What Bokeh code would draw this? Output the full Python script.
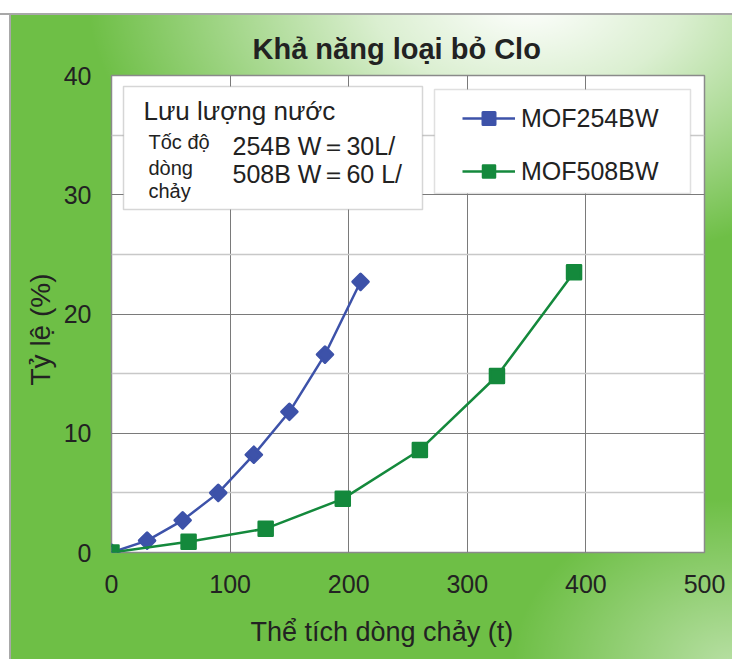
from bokeh.plotting import figure
from bokeh.models import (Range1d, FixedTicker, Label, BoxAnnotation, Legend, LegendItem, Title)
from bokeh.embed import file_html
from bokeh.resources import INLINE
import math

# ---- data ----
x_254 = [0, 30, 60, 90, 120, 150, 180, 210]
y_254 = [0, 1.0, 2.7, 5.0, 8.2, 11.8, 16.6, 22.7]
x_508 = [0, 65, 130, 195, 260, 325, 390]
y_508 = [0, 0.9, 2.0, 4.5, 8.6, 14.8, 23.5]
series_names = ["MOF254BW", "MOF508BW"]
x_ticks = [0, 100, 200, 300, 400, 500]
y_ticks = [0, 10, 20, 30, 40]
title_text = "Khả năng loại bỏ Clo"
x_label = "Thể tích dòng chảy (t)"
y_label = "Tỷ lệ (%)"
box_title = "Lưu lượng nước"
box_left_lines = ["Tốc độ", "dòng", "chảy"]
box_right_lines = ["254B W＝30L/", "508B W＝60 L/"]

FONT = "Liberation Sans"
BLUE = "#3d52a9"
GREEN = "#14893c"
TXT = "#222222"

# frame geometry (page px)
FL, FR, FT, FB = 111, 704, 75, 552
XMAX, YMAX = 500, 40
W, H = 732, 659
def dx(px):
    return (px - FL) * XMAX / (FR - FL)
def dy(py):
    return (FB - py) * YMAX / (FB - FT)

p = figure(width=W, height=H, output_backend="svg", toolbar_location=None,
           x_range=Range1d(0, XMAX), y_range=Range1d(0, YMAX),
           frame_width=FR - FL, frame_height=FB - FT,
           min_border_left=FL, min_border_top=FT,
           min_border_bottom=H - FB, min_border_right=W - FR)
p.border_fill_color = None
p.background_fill_color = "white"
p.outline_line_color = "#8a8a8a"
p.outline_line_width = 1.5
p.styles = {"background":
            "linear-gradient(to bottom, #ffffff 0px, #ffffff 13px, #a8a8a8 13px, #a8a8a8 15px, rgba(255,255,255,0) 15px),"
            "linear-gradient(to right, #ffffff 0px, #ffffff 9px, #a8a8a8 9px, #a8a8a8 11px, rgba(255,255,255,0) 11px),"
            "radial-gradient(ellipse 60% 40% at 72% 0%, rgba(255,255,255,1) 0%, rgba(255,255,255,0.75) 35%, rgba(255,255,255,0) 100%),"
            "radial-gradient(ellipse 30% 25% at 100% 100%, rgba(255,255,255,0.5) 0%, rgba(255,255,255,0) 100%),"
            "#6ebf46"}

# title
p.title.text = title_text
p.title.text_font = FONT
p.title.text_font_size = "29px"
p.title.text_font_style = "bold"
p.title.text_color = TXT
p.title.align = "left"
p.title.offset = 141
p.title.standoff = 22

p.xaxis.ticker = FixedTicker(ticks=x_ticks)
p.yaxis.ticker = FixedTicker(ticks=y_ticks, minor_ticks=[5, 15, 25, 35])
for ax in (p.xaxis, p.yaxis):
    ax.axis_line_color = None
    ax.major_tick_line_color = None
    ax.minor_tick_line_color = None
    ax.major_label_text_font = FONT
    ax.major_label_text_font_size = "25px"
    ax.major_label_text_color = TXT
p.xaxis.major_label_standoff = 16
p.yaxis.major_label_standoff = 14

p.add_layout(Title(text=x_label, align="left", offset=139, text_font=FONT,
                   text_font_size="27px", text_font_style="normal", text_color=TXT,
                   standoff=38), "below")
p.add_layout(Title(text=y_label, align="left", offset=167, text_font=FONT,
                   text_font_size="28px", text_font_style="normal", text_color=TXT,
                   standoff=10), "left")

p.xgrid.grid_line_color = "#7a7a7a"
p.xgrid.grid_line_width = 1
p.ygrid.grid_line_color = "#7a7a7a"
p.ygrid.grid_line_width = 1.2
p.ygrid.minor_grid_line_color = "#c8c8c8"
p.ygrid.minor_grid_line_width = 1.5

l1 = p.line(x_254, y_254, line_color=BLUE, line_width=2.5)
m1 = p.scatter(x_254, y_254, marker="square", angle=math.pi / 4, size=11, fill_color=BLUE,
               line_color=BLUE, line_width=3, line_join="round")
l2 = p.line(x_508, y_508, line_color=GREEN, line_width=2.5)
m2 = p.scatter(x_508, y_508, marker="square", size=14, fill_color=GREEN, line_color=GREEN,
               line_width=2.5, line_join="round")

# boxes
p.add_layout(BoxAnnotation(left=dx(123), right=dx(422), top=dy(86), bottom=dy(209),
                           fill_color="white", fill_alpha=1, line_color="#777777", line_width=1.5))
p.add_layout(BoxAnnotation(left=dx(434), right=dx(690), top=dy(89), bottom=dy(193),
                           fill_color="white", fill_alpha=1, line_color="#999999", line_width=1.5))

def lab(text, px, py, size):
    p.add_layout(Label(x=dx(px), y=dy(py), text=text, text_font=FONT,
                       text_font_size=size, text_align="left", text_baseline="middle",
                       text_color=TXT))

lab(box_title, 143, 110, "26px")
for t, yy in zip(box_left_lines, [141, 167, 190]):
    lab(t, 148, yy, "20px")
for t, yy in zip(box_right_lines, [145, 173]):
    lab(t, 232, yy, "25px")

legend = Legend(items=[LegendItem(label=series_names[0], renderers=[l1, m1]),
                       LegendItem(label=series_names[1], renderers=[l2, m2])],
                location=(462 - FL, FB - 186), orientation="vertical",
                background_fill_alpha=0, border_line_color=None,
                padding=0, margin=0, spacing=23, glyph_width=53, glyph_height=30,
                label_height=30, label_standoff=6,
                label_text_font=FONT, label_text_font_size="25px", label_text_color=TXT)
p.add_layout(legend, "center")

open("out.html", "w").write(file_html(p, INLINE))
